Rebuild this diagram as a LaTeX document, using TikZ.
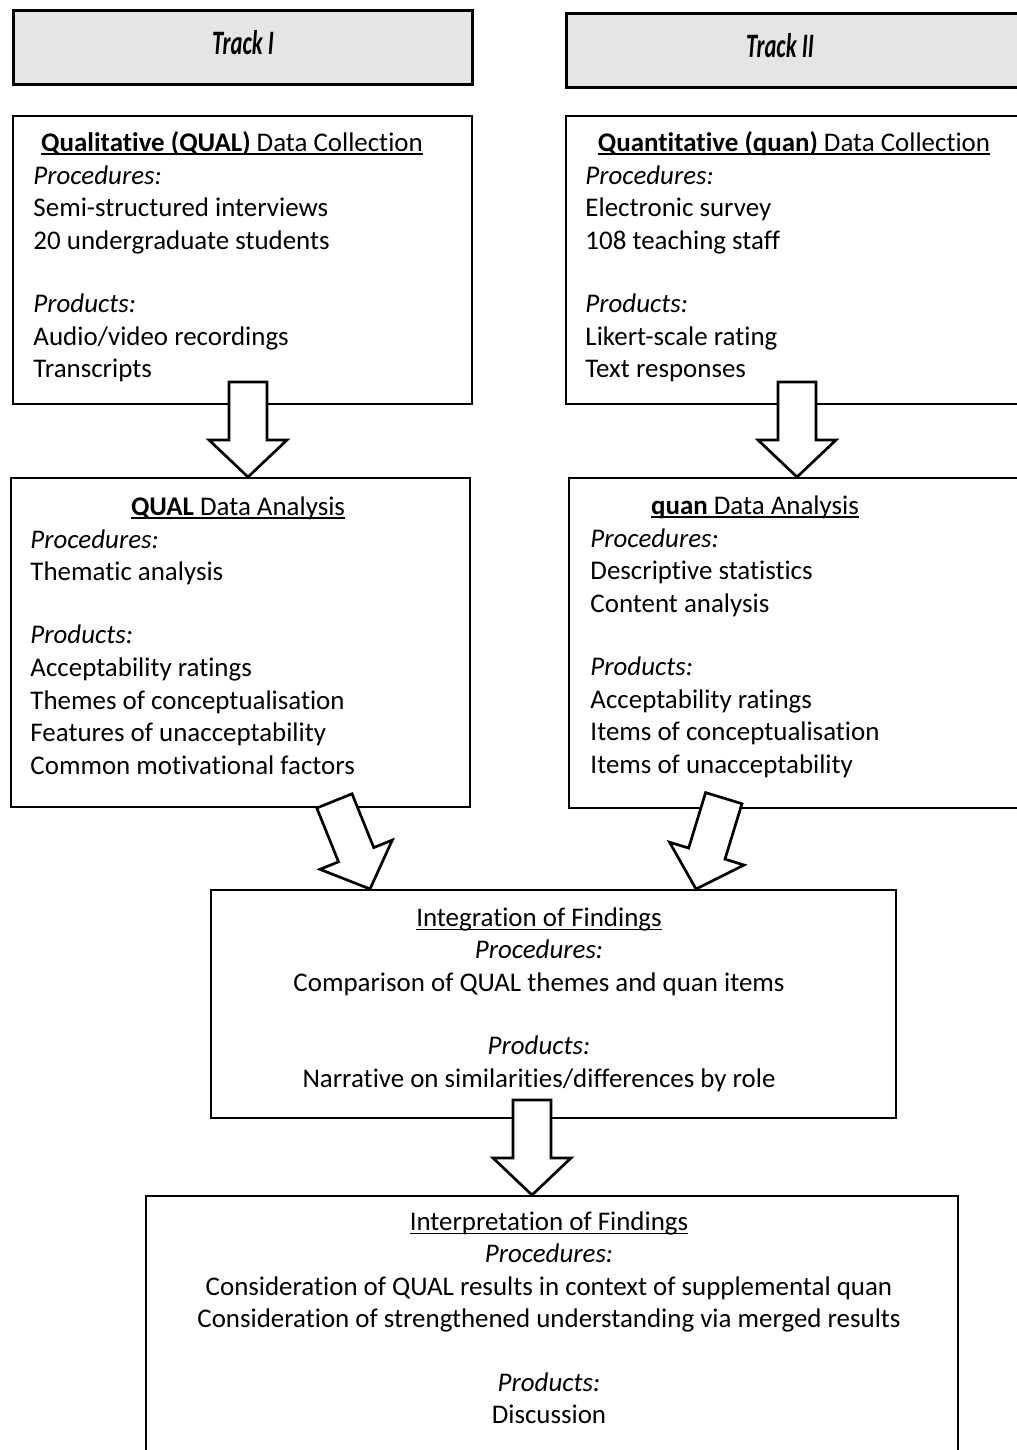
\documentclass[tikz,border=0pt]{standalone}
\usepackage{fontspec}
\setmainfont{Carlito}[Ligatures=NoCommon]
\usepackage{graphicx}
\usetikzlibrary{calc}
\def\pxu{0.014356cm}
\newcommand{\ulin}[1]{\setbox0\hbox{#1}\rlap{\rule[-1.6pt]{\wd0}{0.65pt}}\box0}
\tikzset{
  every node/.style={inner sep=0pt},
  box/.style={draw, line width=0.9pt, rectangle, anchor=north west},
  trackbox/.style={box, fill=black!10, line width=1.1pt},
  boxsize/.style 2 args={minimum width={#1*\pxu}, minimum height={#2*\pxu}},
  txt/.style={font=\fontsize{11}{13.3}\selectfont},
  head/.style={txt, anchor=base},
  body/.style={txt, anchor=north west, align=left},
  bodyc/.style={txt, anchor=north, align=center},
  trackfont/.style={font=\fontsize{14}{16}\selectfont\bfseries\itshape},
  blockarr/.pic={
    \draw[fill=white, line width=1.1pt, line join=miter]
      (0,0) -- (-39,-37) -- (-19,-37) -- (-19,-95) -- (19,-95) -- (19,-37) -- (39,-37) -- cycle;
  }
}
\begin{document}
\begin{tikzpicture}[x=\pxu, y=-\pxu]
  \useasboundingbox (0,0) rectangle (1017,1450);
  % track headers
  \node[trackbox, boxsize={459}{74}] (trackI) at (12,9) {};
  \node[trackbox, boxsize={470}{74}] (trackII) at (565,12) {};
  \node[trackfont] (trackIt) at (243,43) {\scalebox{0.66}[1]{Track I}};
  \node[trackfont] (trackIIt) at (780,46) {\scalebox{0.66}[1]{Track II}};
  % boxes
  \node[box, boxsize={459}{288}] (qualcol) at (12,115) {};
  \node[box, boxsize={470}{288}] (quancol) at (565,115) {};
  \node[box, boxsize={459}{329}] (qualan) at (10,477) {};
  \node[box, boxsize={467}{330}] (quanan) at (568,477) {};
  \node[box, boxsize={685}{228}] (integ) at (210,889) {};
  \node[box, boxsize={812}{270}] (interp) at (145,1195) {};
  % data collection
  \node[head] (qualcolh) at (232,151) {\ulin{\textbf{Qualitative (QUAL)} Data Collection}};
  \node[body] (qualcolb) at (33,161) {\strut\textit{Procedures:}\\Semi-structured interviews\\20 undergraduate students\\[12.5pt]
    \textit{Products:}\\Audio/video recordings\\Transcripts};
  \node[head] (quancolh) at (794,151) {\ulin{\textbf{Quantitative (quan)} Data Collection}};
  \node[body] (quancolb) at (585,161) {\strut\textit{Procedures:}\\Electronic survey\\108 teaching staff\\[12.5pt]
    \textit{Products:}\\Likert-scale rating\\Text responses};
  % data analysis
  \node[head] (qualanh) at (238,515) {\ulin{\textbf{QUAL} Data Analysis}};
  \node[body] (qualanb) at (30,525) {\strut\textit{Procedures:}\\Thematic analysis\\[12.5pt]
    \textit{Products:}\\Acceptability ratings\\Themes of conceptualisation\\Features of unacceptability\\Common motivational factors};
  \node[head] (quananh) at (755,514) {\ulin{\textbf{quan} Data Analysis}};
  \node[body] (quananb) at (590,524) {\strut\textit{Procedures:}\\Descriptive statistics\\Content analysis\\[12.5pt]
    \textit{Products:}\\Acceptability ratings\\Items of conceptualisation\\Items of unacceptability};
  % integration and interpretation
  \node[bodyc] (integb) at (539,903) {\strut\ulin{Integration of Findings}\\\textit{Procedures:}\\Comparison of QUAL themes and quan items\\[12.5pt]
    \textit{Products:}\\Narrative on similarities/differences by role};
  \node[bodyc] (interpb) at (549,1207) {\strut\ulin{Interpretation of Findings}\\\textit{Procedures:}\\Consideration of QUAL results in context of supplemental quan\\
    Consideration of strengthened understanding via merged results\\[12.5pt]
    \textit{Products:}\\Discussion};
  % block arrows
  \pic at ($(qualan.north west)+(238,0)$) {blockarr};
  \pic at ($(quanan.north west)+(229,0)$) {blockarr};
  \pic[rotate=22] at ($(integ.north west)+(160,0)$) {blockarr};
  \pic[rotate=-17] at ($(integ.north west)+(486,0)$) {blockarr};
  \pic at ($(interp.north west)+(387,0)$) {blockarr};
\end{tikzpicture}
\end{document}
